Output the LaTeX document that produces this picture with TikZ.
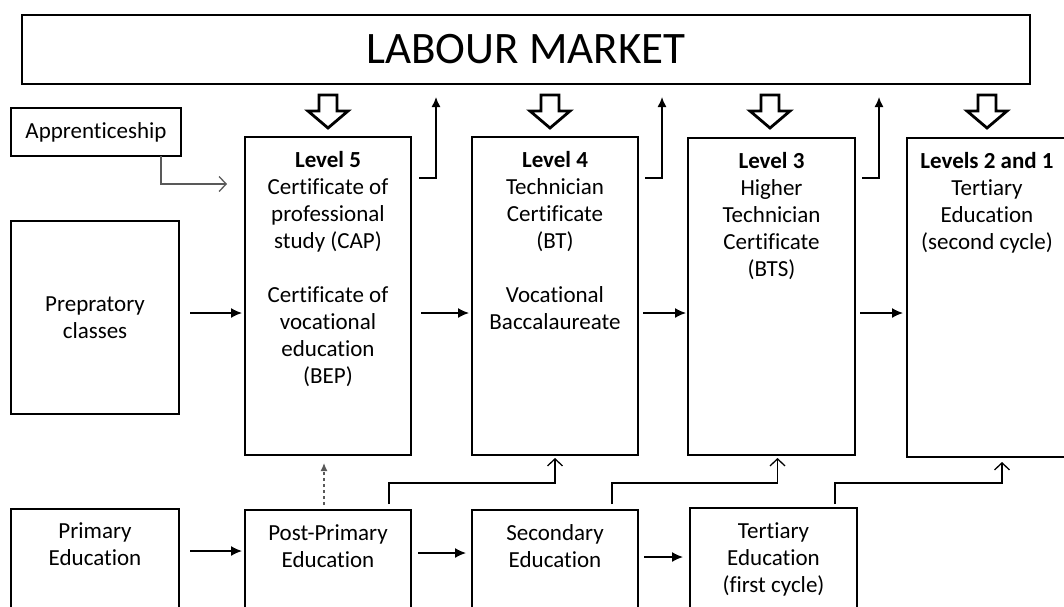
\documentclass[tikz,border=0pt]{standalone}
\usepackage{fontspec}
\setmainfont{Carlito}[Ligatures=NoCommon]
\usetikzlibrary{arrows.meta,positioning,calc}
\tikzset{>=Latex}
\begin{document}
\begin{tikzpicture}[x=1pt, y=-1pt, node distance=0pt,
  box/.style={draw, line width=1.3pt, inner sep=0pt, outer sep=0pt, align=center, anchor=north west, font=\fontsize{23}{27}\selectfont},
  txt/.style={inner sep=0pt, align=center, font=\fontsize{23}{27}\selectfont},
  arr/.style={line width=1.4pt, -{Latex[length=11pt,width=10pt]}},
  uparr/.style={line width=1.4pt, -{Latex[length=10pt,width=9pt]}},
  openarr/.style={line width=1.3pt, -{Straight Barb[length=7pt,width=15pt]}},
  hollow/.pic={\draw[line width=2.8pt, line join=miter] (-9,0) -- (9,0) -- (9,16) -- (20,16) -- (0,33) -- (-20,16) -- (-9,16) -- cycle;}]
\useasboundingbox (0,0) rectangle (1064,606);
\clip (0,0) rectangle (1064,606);
% top and left boxes
\node[box, line width=1.6pt, font=\fontsize{45}{50}\selectfont, minimum width=1008pt, minimum height=69pt] (market) at (22,15) {LABOUR MARKET};
\node[box, minimum width=170pt, minimum height=48pt] (appr) at (11,108) {Apprenticeship};
\node[box, minimum width=168pt, minimum height=193pt] (prep) at (11,221) {Prepratory\\classes};
% level boxes
\node[box, minimum width=166pt, minimum height=318pt] (lvl5) at (245,137) {};
\node[box, minimum width=166pt, minimum height=318pt] (lvl4) at (472,137) {};
\node[box, minimum width=167pt, minimum height=317pt] (lvl3) at (688,138) {};
\node[box, minimum width=160pt, minimum height=319pt] (lvl21) at (907,138) {};
\node[txt, below=14pt of lvl5.north] (lvl5txt) {\textbf{Level 5}\\Certificate of\\professional\\study (CAP)\\[27pt]Certificate of\\vocational\\education\\(BEP)};
\node[txt, below=14pt of lvl4.north] (lvl4txt) {\textbf{Level 4}\\Technician\\Certificate\\(BT)\\[27pt]Vocational\\Baccalaureate};
\node[txt, below=14pt of lvl3.north] (lvl3txt) {\textbf{Level 3}\\Higher\\Technician\\Certificate\\(BTS)};
\node[txt, below=14pt of lvl21.north] (lvl21txt) {\textbf{Levels 2 and 1}\\Tertiary\\Education\\(second cycle)};
% bottom row
\node[box, minimum width=168pt, minimum height=120pt] (prim) at (11,509) {};
\node[box, minimum width=166pt, minimum height=120pt] (post) at (245,510) {};
\node[box, minimum width=166pt, minimum height=120pt] (sec) at (472,510) {};
\node[box, minimum width=167pt, minimum height=120pt] (tert) at (690,508) {};
\node[txt, below=13pt of prim.north] (primtxt) {Primary\\Education};
\node[txt, below=14pt of post.north] (posttxt) {Post-Primary\\Education};
\node[txt, below=14pt of sec.north] (sectxt) {Secondary\\Education};
\node[txt, below=14pt of tert.north] (terttxt) {Tertiary\\Education\\(first cycle)};
% hollow arrows from the market
\foreach \x in {328,550,770,987}
  \pic at (\x,95) {hollow};
% arrows up to the market
\draw[uparr] ($(lvl5.north east)+(8,41)$) -| ($(lvl5.north east |- market.south)+(25,13)$);
\draw[uparr] ($(lvl4.north east)+(7,41)$) -| ($(lvl4.north east |- market.south)+(24,13)$);
\draw[uparr] ($(lvl3.north east)+(7,40)$) -| ($(lvl3.north east |- market.south)+(24,13)$);
% arrows between levels
\draw[arr] ($(prep.east)+(11,-4.5)$) -- ($(lvl5.west)+(-3,17)$);
\draw[arr] ($(lvl5.east)+(10,17)$) -- ($(lvl4.west)+(-3,17)$);
\draw[arr] ($(lvl4.east)+(5,17)$) -- ($(lvl3.west)+(-2,16.5)$);
\draw[arr] ($(lvl3.east)+(5,16.5)$) -- ($(lvl21.west)+(-4,15.5)$);
% arrows along the bottom row
\draw[arr] ($(prim.north east)+(11,42)$) -- ($(post.north west)+(-3,41)$);
\draw[arr] ($(post.north east)+(7,43)$) -- ($(sec.north west)+(-6,43)$);
\draw[arr] ($(sec.north east)+(6,47)$) -- ($(tert.north west)+(-7,49)$);
% apprenticeship and dashed link
\draw[openarr, black!65] ($(appr.south east)+(-20,0)$) |- ($(lvl5.north west)+(-18,47)$);
\draw[dashed, black!65, line width=1.3pt, -{Latex[length=8pt,width=7pt]}] ($(post.north)+(-4,-5)$) -- ($(lvl5.south)+(-4,8)$);
% elbow links up into the levels
\draw[openarr] ($(post.north east)+(-22,-6)$) |- ($(lvl4.south)+(0,28)$) -- ($(lvl4.south)+(0,3)$);
\draw[openarr] ($(sec.north east)+(-26,-6)$) |- ($(lvl3.south)+(6,28)$) -- ($(lvl3.south)+(6,3)$);
\draw[openarr] ($(tert.north east)+(-22,-4)$) |- ($(lvl21.south west)+(95,26)$) -- ($(lvl21.south west)+(95,5)$);
\end{tikzpicture}
\end{document}
